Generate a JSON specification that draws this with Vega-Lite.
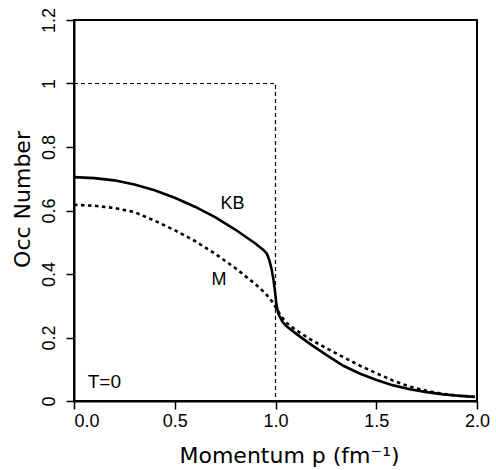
{
  "$schema": "https://vega.github.io/schema/vega-lite/v6.json",
  "autosize": "none",
  "padding": {"left": 74, "top": 20, "right": 19, "bottom": 69},
  "width": 403,
  "height": 381,
  "config": {
    "view": {"stroke": "black", "strokeWidth": 2},
    "axis": {
      "grid": false,
      "domainColor": "black",
      "domainWidth": 2,
      "tickColor": "black",
      "tickWidth": 1.5,
      "tickSize": 8,
      "labelColor": "black",
      "labelFont": "Liberation Sans",
      "labelFontSize": 18,
      "titleColor": "black",
      "titleFont": "DejaVu Sans",
      "titleFontSize": 22,
      "titleFontWeight": "normal",
      "labelOverlap": false,
      "labelFlush": false
    }
  },
  "layer": [
    {
      "data": {"values": [
        {"i": 0, "p": 0, "n": 1},
        {"i": 1, "p": 1, "n": 1},
        {"i": 2, "p": 1, "n": 0}
      ]},
      "mark": {"type": "line", "color": "black", "strokeWidth": 1.2, "strokeDash": [4, 3]},
      "encoding": {
        "x": {
          "field": "p", "type": "quantitative",
          "scale": {"domain": [0, 2], "nice": false, "zero": false},
          "axis": {
            "values": [0, 0.5, 1, 1.5, 2],
            "format": ".1f",
            "title": "Momentum p (fm⁻¹)",
            "labelPadding": 3,
            "labelDx": 4,
            "labelAlign": {"condition": {"test": "datum.value == 0", "value": "left"}, "value": "center"},
            "titleX": 215,
            "titleY": 61,
            "titleBaseline": "alphabetic",
            "titleAlign": "center"
          }
        },
        "y": {
          "field": "n", "type": "quantitative",
          "scale": {"domain": [0, 1.2], "nice": false},
          "axis": {
            "values": [0, 0.2, 0.4, 0.6, 0.8, 1, 1.2],
            "format": "~g",
            "labelAngle": -90,
            "labelAlign": "center",
            "labelBaseline": "bottom",
            "labelPadding": 8,
            "title": "Occ Number",
            "titleAngle": -90,
            "titleAlign": "center",
            "titleBaseline": "middle",
            "titleX": -52,
            "titleY": 179
          }
        },
        "order": {"field": "i"}
      }
    },
    {
      "data": {"values": [
        {"p": 0, "n": 0.618},
        {"p": 0.1, "n": 0.615},
        {"p": 0.2, "n": 0.608},
        {"p": 0.3, "n": 0.595},
        {"p": 0.4, "n": 0.568},
        {"p": 0.5, "n": 0.538},
        {"p": 0.6, "n": 0.504},
        {"p": 0.7, "n": 0.464},
        {"p": 0.8, "n": 0.419},
        {"p": 0.9, "n": 0.368},
        {"p": 0.95, "n": 0.339},
        {"p": 0.985, "n": 0.312},
        {"p": 1.006, "n": 0.290},
        {"p": 1.03, "n": 0.265},
        {"p": 1.055, "n": 0.246},
        {"p": 1.1, "n": 0.224},
        {"p": 1.171, "n": 0.195},
        {"p": 1.25, "n": 0.167},
        {"p": 1.337, "n": 0.138},
        {"p": 1.42, "n": 0.111},
        {"p": 1.502, "n": 0.087},
        {"p": 1.58, "n": 0.065},
        {"p": 1.667, "n": 0.045},
        {"p": 1.75, "n": 0.032},
        {"p": 1.833, "n": 0.022},
        {"p": 1.92, "n": 0.016},
        {"p": 1.98, "n": 0.014}
      ]},
      "mark": {"type": "line", "color": "black", "strokeWidth": 2.6, "strokeDash": [3.5, 3.5]},
      "encoding": {
        "x": {"field": "p", "type": "quantitative"},
        "y": {"field": "n", "type": "quantitative"}
      }
    },
    {
      "data": {"values": [
        {"p": 0, "n": 0.705},
        {"p": 0.1, "n": 0.702},
        {"p": 0.2, "n": 0.695},
        {"p": 0.3, "n": 0.682},
        {"p": 0.4, "n": 0.664},
        {"p": 0.5, "n": 0.640},
        {"p": 0.6, "n": 0.612},
        {"p": 0.7, "n": 0.579},
        {"p": 0.8, "n": 0.540},
        {"p": 0.9, "n": 0.496},
        {"p": 0.94, "n": 0.476},
        {"p": 0.958, "n": 0.463},
        {"p": 0.97, "n": 0.442},
        {"p": 0.98, "n": 0.417},
        {"p": 0.99, "n": 0.382},
        {"p": 0.998, "n": 0.342},
        {"p": 1.005, "n": 0.302},
        {"p": 1.015, "n": 0.273},
        {"p": 1.035, "n": 0.249},
        {"p": 1.055, "n": 0.235},
        {"p": 1.1, "n": 0.213},
        {"p": 1.171, "n": 0.180},
        {"p": 1.25, "n": 0.146},
        {"p": 1.337, "n": 0.111},
        {"p": 1.42, "n": 0.086},
        {"p": 1.502, "n": 0.066},
        {"p": 1.58, "n": 0.050},
        {"p": 1.667, "n": 0.037},
        {"p": 1.75, "n": 0.028},
        {"p": 1.833, "n": 0.021},
        {"p": 1.92, "n": 0.016},
        {"p": 1.99, "n": 0.013}
      ]},
      "mark": {"type": "line", "color": "black", "strokeWidth": 2.6},
      "encoding": {
        "x": {"field": "p", "type": "quantitative"},
        "y": {"field": "n", "type": "quantitative"}
      }
    },
    {
      "data": {"values": [
        {"p": 0.787, "n": 0.62, "label": "KB"},
        {"p": 0.72, "n": 0.38, "label": "M"}
      ]},
      "mark": {"type": "text", "font": "Liberation Sans", "fontSize": 18, "color": "black", "baseline": "middle", "align": "center"},
      "encoding": {
        "x": {"field": "p", "type": "quantitative"},
        "y": {"field": "n", "type": "quantitative"},
        "text": {"field": "label"}
      }
    },
    {
      "data": {"values": [
        {"p": 0.068, "n": 0.06, "label": "T=0"}
      ]},
      "mark": {"type": "text", "font": "Liberation Sans", "fontSize": 19, "color": "black", "baseline": "middle", "align": "left"},
      "encoding": {
        "x": {"field": "p", "type": "quantitative"},
        "y": {"field": "n", "type": "quantitative"},
        "text": {"field": "label"}
      }
    }
  ]
}
